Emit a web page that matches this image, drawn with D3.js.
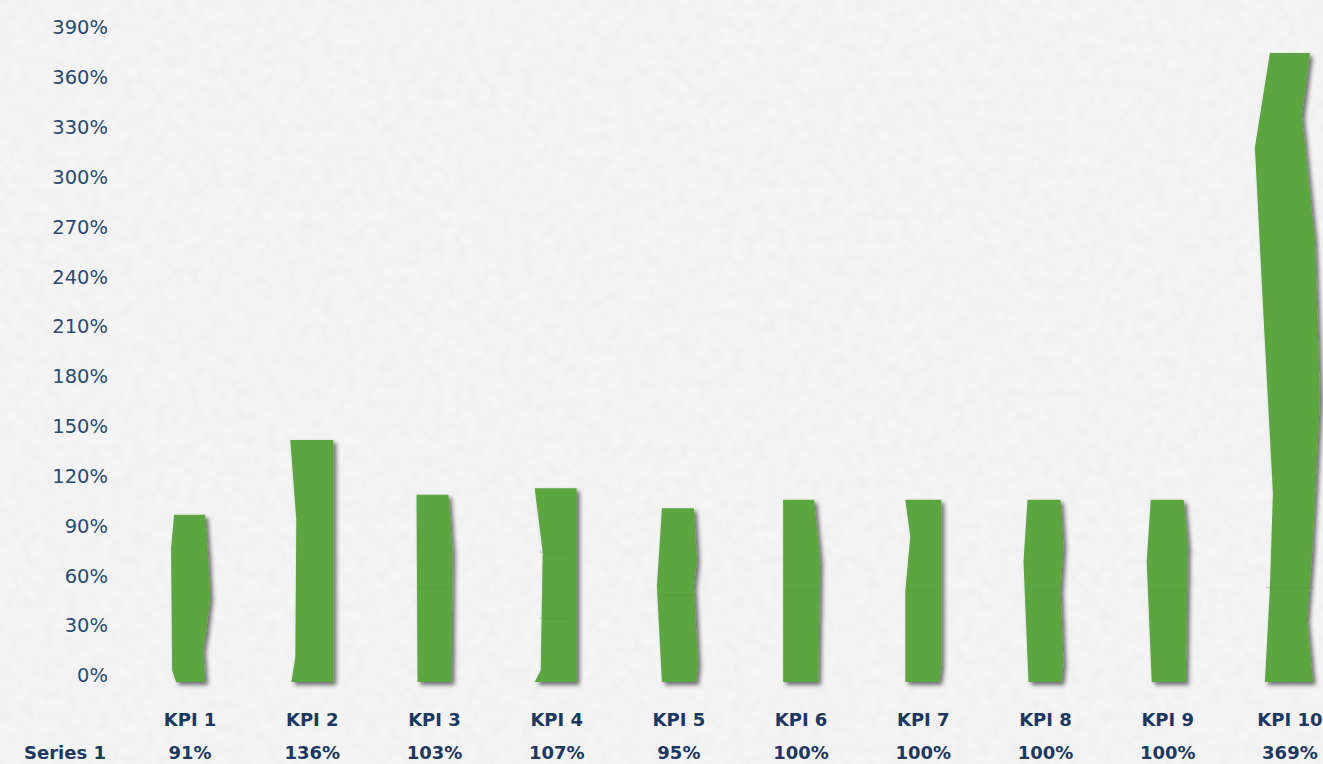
<!DOCTYPE html>
<html>
<head>
<meta charset="utf-8">
<script src="https://cdn.jsdelivr.net/npm/d3@7"></script>
<style>
  html, body { margin: 0; padding: 0; background: #f3f3f3; overflow: hidden; }
  svg { display: block; }
</style>
</head>
<body>
<div id="chart"></div>
<script>
// data
const categories = ['KPI 1', 'KPI 2', 'KPI 3', 'KPI 4', 'KPI 5', 'KPI 6', 'KPI 7', 'KPI 8', 'KPI 9', 'KPI 10']
const seriesName = 'Series 1'
const values = [91, 136, 103, 107, 95, 100, 100, 100, 100, 369]
const yTicks = [0, 30, 60, 90, 120, 150, 180, 210, 240, 270, 300, 330, 360, 390]

// hand cut look of each bar: [t, dx] pairs along the left / right edge (styling only)
const barCut = [
  { half: 18, l: [[0, 4], [0.07, 0], [0.8, -1], [1, 2]], r: [[0, -3], [0.2, -5], [0.3, -2], [0.5, 2], [0.75, 0], [1, -3]], seams: [] },
  { half: 19, l: [[0, -2], [0.1, 2], [0.67, 3], [1, -3]], r: [[0, 2], [1, 2]], seams: [] },
  { half: 18, l: [[0, 1], [1, 0]], r: [[0, -1], [0.7, 0], [1, -4]], seams: [0.5] },
  { half: 18, l: [[0, -4], [0.06, 2], [0.67, 4], [1, -4]], r: [[0, 2], [1, 2]], seams: [0.33, 0.67] },
  { half: 18, l: [[0, 1], [0.55, -4], [1, 1]], r: [[0, -1], [0.1, 1], [0.55, -3], [0.7, 0], [1, -3]], seams: [0.5] },
  { half: 18, l: [[0, 0], [1, 0]], r: [[0, -1], [0.66, 1], [1, -5]], seams: [0.5] },
  { half: 18, l: [[0, 0], [0.5, 0], [0.8, 5], [1, 0]], r: [[0, -2], [0.1, 0], [1, 0]], seams: [0.5] },
  { half: 18, l: [[0, 1], [0.66, -4], [1, 0]], r: [[0, -2], [0.1, 0], [0.5, -3], [0.75, 0], [1, -3]], seams: [0.5] },
  { half: 18, l: [[0, 2], [0.66, -3], [1, 1]], r: [[0, 0], [0.75, 2], [1, -2]], seams: [0.5] },
  { half: 25, l: [[0, 0], [0.15, 5], [0.3, 8], [0.6, -2], [0.85, -10], [1, 5]], r: [[0, -2], [0.1, -8], [0.2, -3], [0.45, 5], [0.7, 0], [0.9, -13], [1, -5]], seams: [0.15] }
]

const width = 1323
const height = 764
const navy = '#1d3860'
const green = '#5ca53f'

const svg = d3.select('#chart')
  .append('svg')
  .attr('width', width)
  .attr('height', height)

const defs = svg.append('defs')

// paper texture
const paper = defs.append('filter')
  .attr('id', 'paper')
  .attr('x', 0).attr('y', 0).attr('width', '100%').attr('height', '100%')
paper.append('feTurbulence')
  .attr('type', 'fractalNoise')
  .attr('baseFrequency', 0.09)
  .attr('numOctaves', 3)
  .attr('seed', 7)
paper.append('feColorMatrix')
  .attr('type', 'matrix')
  .attr('values', '0 0 0 0 0.6  0 0 0 0 0.6  0 0 0 0 0.6  0.22 0 0 0 -0.08')

const shadow = defs.append('filter')
  .attr('id', 'shadow')
  .attr('x', '-30%').attr('y', '-10%').attr('width', '170%').attr('height', '125%')
shadow.append('feDropShadow')
  .attr('dx', 3)
  .attr('dy', 3)
  .attr('stdDeviation', 2)
  .attr('flood-color', '#000')
  .attr('flood-opacity', 0.55)

svg.append('rect')
  .attr('width', width)
  .attr('height', height)
  .attr('fill', '#f4f4f4')
svg.append('rect')
  .attr('width', width)
  .attr('height', height)
  .attr('filter', 'url(#paper)')

// scales
const xScale = d3.scaleBand()
  .domain(categories)
  .range([129, 1351])

const yScale = d3.scaleLinear()
  .domain([0, 390])
  .range([675, 27])

// y axis labels
const yAxis = d3.axisLeft(yScale)
  .tickValues(yTicks)
  .tickFormat(d => d + '%')
  .tickSize(0)
  .tickPadding(0)

const ga = svg.append('g')
  .attr('transform', 'translate(108,0)')
  .call(yAxis)
ga.select('.domain').remove()
ga.selectAll('text')
  .attr('fill', '#2a4a72')
  .attr('dy', '0.35em')
  .style('font-family', '"DejaVu Sans", sans-serif')
  .style('font-size', '19.5px')

// bars
const line = d3.line()

values.forEach((v, i) => {
  const cut = barCut[i]
  const cx = xScale(categories[i]) + xScale.bandwidth() / 2
  const yb = yScale(0) + 7
  const yt = yScale(v) - 9
  const h = yb - yt
  const pts = []
  cut.l.forEach(p => pts.push([cx - cut.half + p[1], yb - p[0] * h]))
  cut.r.slice().reverse().forEach(p => pts.push([cx + cut.half + p[1], yb - p[0] * h]))

  const g = svg.append('g')
  g.append('path')
    .attr('d', line(pts) + 'Z')
    .attr('fill', green)
    .attr('filter', 'url(#shadow)')
  cut.seams.forEach(s => {
    g.append('line')
      .attr('x1', cx - cut.half + 1)
      .attr('x2', cx + cut.half - 1)
      .attr('y1', yb - s * h)
      .attr('y2', yb - s * h)
      .attr('stroke', '#4f9434')
      .attr('stroke-opacity', 0.35)
      .attr('stroke-width', 1)
  })
})

// data table under the chart
svg.selectAll('.cat')
  .data(categories)
  .join('text')
  .attr('class', 'cat')
  .attr('x', d => xScale(d) + xScale.bandwidth() / 2)
  .attr('y', 720)
  .attr('dy', '0.35em')
  .attr('text-anchor', 'middle')
  .attr('fill', navy)
  .style('font-family', '"DejaVu Sans", sans-serif')
  .style('font-weight', 'bold')
  .style('font-size', '18px')
  .text(d => d)

svg.append('text')
  .attr('x', 106)
  .attr('y', 753)
  .attr('dy', '0.35em')
  .attr('text-anchor', 'end')
  .attr('fill', navy)
  .style('font-family', '"DejaVu Sans", sans-serif')
  .style('font-weight', 'bold')
  .style('font-size', '18px')
  .text(seriesName)

svg.selectAll('.val')
  .data(values)
  .join('text')
  .attr('class', 'val')
  .attr('x', (d, i) => xScale(categories[i]) + xScale.bandwidth() / 2)
  .attr('y', 753)
  .attr('dy', '0.35em')
  .attr('text-anchor', 'middle')
  .attr('fill', navy)
  .style('font-family', '"DejaVu Sans", sans-serif')
  .style('font-weight', 'bold')
  .style('font-size', '18px')
  .text(d => d + '%')
</script>
</body>
</html>
